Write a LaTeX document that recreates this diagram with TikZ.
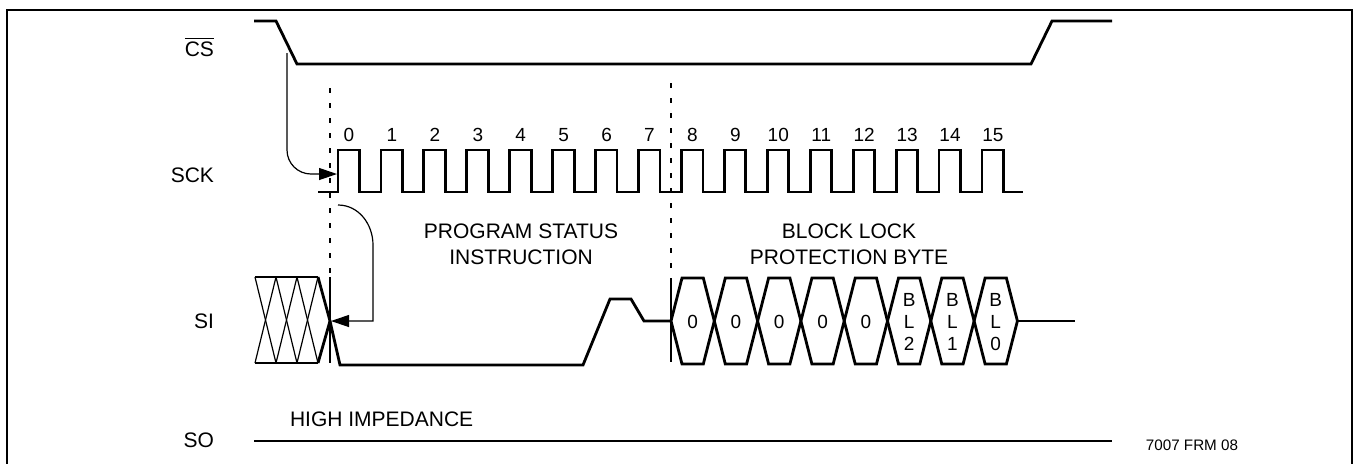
\documentclass[tikz,border=0pt]{standalone}
\usepackage{fontspec}
\setmainfont{Liberation Sans}
\usetikzlibrary{arrows.meta, calc}
\definecolor{sigcol}{RGB}{0,0,0}
\definecolor{labelcol}{RGB}{0,0,0}
\definecolor{framecol}{RGB}{0,0,0}

\begin{document}
\begin{tikzpicture}[
    x=0.5pt, y=-0.5pt,
    sig/.style={sigcol, line width=1.4pt},
    guide/.style={sigcol, line width=0.6pt},
    dashguide/.style={sigcol, line width=0.6pt, dash pattern=on 2.5pt off 5pt},
    arr/.style={-{Triangle[length=9pt, width=6pt]}, line width=0.6pt},
    lbl/.style={text=labelcol, font=\fontsize{10.5}{13}\selectfont},
    numlbl/.style={text=labelcol, font=\fontsize{9.5}{11}\selectfont},
    bitlbl/.style={text=labelcol, font=\fontsize{9.5}{11}\selectfont, align=center, inner sep=0pt},
]

\useasboundingbox (0,0) rectangle (1354,463);

% ════════════════════════════════════════════════════════
% 0. FRAME (open at the bottom)
% ════════════════════════════════════════════════════════
\draw[framecol, line width=1pt] (7,480) -- (7,10) -- (1352,10) -- (1352,480);

% ════════════════════════════════════════════════════════
% 1. SIGNAL NAMES
% ════════════════════════════════════════════════════════
\node[lbl, anchor=east] (cs)  at (221, 47)  {$\overline{\mbox{CS}}$};
\node[lbl, anchor=east] (sck) at (221, 175) {SCK};
\node[lbl, anchor=east] (si)  at (221, 321) {SI};
\node[lbl, anchor=east] (so)  at (221, 440) {SO};

% ════════════════════════════════════════════════════════
% 2. CS: falls before the first clock, rises after the last
% ════════════════════════════════════════════════════════
\draw[sig] (254,21) -- (276,21) -- (297,64) -- (1031,64) -- (1052,21) -- (1112,21);

% ════════════════════════════════════════════════════════
% 3. SCK: 16 pulses, numbered 0..15
% ════════════════════════════════════════════════════════
\draw[sig] (318,192)
    foreach \k in {0,...,15} {
        -- ({338+42.93*\k},192) |- ({359.5+42.93*\k},150) -- ({359.5+42.93*\k},192)
    }
    -- (1023,192);

\foreach \k in {0,...,15}
    \node[numlbl] (n\k) at ({349+42.93*\k},135) {\k};

% Byte boundaries
\draw[dashguide] (330,88) -- (330,277);
\draw[dashguide] (671,83) -- (671,278);
\draw[guide] (330,277) -- (330,363);
\draw[guide] (671,278) -- (671,362);

% ════════════════════════════════════════════════════════
% 4. SI: don't care, instruction, then data byte
% ════════════════════════════════════════════════════════
% ── Don't-care region (crossed cells)
\foreach \c in {0,1,2} {
    \draw[guide] ({255+21*\c},277) -- ({276+21*\c},363);
    \draw[guide] ({276+21*\c},277) -- ({255+21*\c},363);
}
\draw[sig] (255,277) -- (318,277);
\draw[sig] (255,363) -- (318,363);
\draw[sig] (318,363) -- (330,321);

% ── Instruction (only the shape of bits 0..7 shown)
\draw[sig] (318,277) -- (330,321) -- (340,365) -- (583,365) -- (610,299)
    -- (631,299) -- (644,321) -- (671,321);

% ── Block lock protection byte
\foreach \i/\t in {0/0, 1/0, 2/0, 3/0, 4/0, 5/{B\\L\\2}, 6/{B\\L\\1}, 7/{B\\L\\0}} {
    \pgfmathsetmacro\L{671+43.3*\i}
    \draw[sig] (\L,321) -- ++(11,-43) -- ++(21.3,0) -- ++(11,43)
        -- ++(-11,43) -- ++(-21.3,0) -- cycle;
    \node[bitlbl] (bit\i) at ({\L+21.65},322) {\t};
}
\draw[sig] (1017.4,321) -- (1075,321);

\node[lbl, align=center] (prog) at (521,244) {PROGRAM STATUS\\INSTRUCTION};
\node[lbl, align=center] (blk)  at (849,244) {BLOCK LOCK\\PROTECTION BYTE};

% ════════════════════════════════════════════════════════
% 5. TIMING ARROWS
% ════════════════════════════════════════════════════════
\coordinate (csfall)  at (287,53);
\coordinate (sckin)   at (337,174);
\coordinate (sckrise) at (338,205);
\coordinate (sitip)   at (331,321);

\draw[arr, rounded corners=12pt] (csfall) |- (sckin);
\draw[arr] (sckrise) to[out=0, in=90] (373,245) |- (sitip);

% ════════════════════════════════════════════════════════
% 6. SO
% ════════════════════════════════════════════════════════
\draw[sig] (254,441) -- (1112,441);
\node[lbl, anchor=west] (hiz) at (283,419) {HIGH IMPEDANCE};
\node[text=labelcol, font=\fontsize{7.6}{9}\selectfont] (fig) at (1192,445) {7007 FRM 08};

\end{tikzpicture}
\end{document}
